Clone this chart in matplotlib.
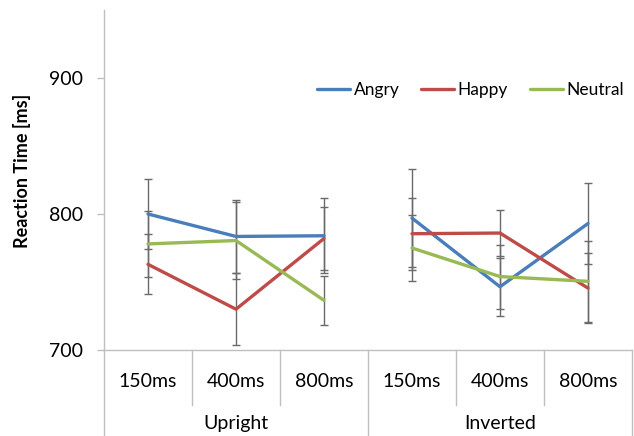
import numpy as np
import matplotlib.pyplot as plt

plt.rcParams["font.family"] = ["Lato", "DejaVu Sans"]

# =====================================================
# DATA
# =====================================================

durations = ["150ms", "400ms", "800ms"]
orientations = ["Upright", "Inverted"]

angry = [800, 783.5, 784, 797, 746.5, 793]
happy = [763, 730, 782, 785.5, 786, 745.5]
neutral = [778, 780.5, 736.5, 775, 754, 750.5]

angry_err = [25.5, 27, 27.5, 36, 21.5, 29.5]
happy_err = [22, 26.5, 23.5, 26.5, 17, 25.5]
neutral_err = [24, 28.5, 18, 24, 23.5, 30]

series = [
    ("Angry", angry, angry_err, "#4a7ebb"),
    ("Happy", happy, happy_err, "#be4b48"),
    ("Neutral", neutral, neutral_err, "#98b954"),
]

AXIS_GRAY = "#bfbfbf"

# =====================================================
# PLOT
# =====================================================

fig = plt.figure(figsize=(6.34, 4.36), dpi=100)
ax = fig.add_axes([104 / 634, 86 / 436, 528 / 634, 340 / 436])

n_dur = len(durations)
x = np.arange(n_dur * len(orientations))

for name, vals, errs, color in series:
    vals = np.array(vals)
    errs = np.array(errs)
    for g in range(len(orientations)):
        sl = slice(g * n_dur, (g + 1) * n_dur)
        ax.errorbar(
            x[sl], vals[sl], yerr=errs[sl],
            fmt="none", ecolor="#6a6a6a", elinewidth=1.0,
            capsize=3, capthick=1.0, zorder=2
        )
    for g in range(len(orientations)):
        sl = slice(g * n_dur, (g + 1) * n_dur)
        ax.plot(
            x[sl], vals[sl], color=color, lw=2.4,
            solid_capstyle="round", zorder=3,
            label=name if g == 0 else None
        )

ax.set_xlim(-0.5, len(x) - 0.5)
ax.set_ylim(700, 950)
ax.set_yticks([700, 800, 900])
ax.set_xticks([])

for side in ["top", "right"]:
    ax.spines[side].set_visible(False)
for side in ["left", "bottom"]:
    ax.spines[side].set_color(AXIS_GRAY)
    ax.spines[side].set_linewidth(1.0)

ax.tick_params(axis="y", length=5, color=AXIS_GRAY, width=1.0,
               labelsize=14, pad=10)

trans = ax.get_xaxis_transform()

# category labels and separators
for i, xi in enumerate(x):
    ax.text(xi, -31 / 340, durations[i % n_dur], transform=trans,
            ha="center", va="center", fontsize=14)

for b in range(len(x) + 1):
    xb = b - 0.5
    if b % n_dur == 0:
        y_end = -86 / 340
    else:
        y_end = -55 / 340
    ax.plot([xb, xb], [0, y_end], transform=trans, color=AXIS_GRAY,
            lw=1.0, clip_on=False)

for g, label in enumerate(orientations):
    ax.text(g * n_dur + (n_dur - 1) / 2, -73 / 340, label, transform=trans,
            ha="center", va="center", fontsize=14)

fig.text(22 / 634, (436 - 171) / 436, "Reaction Time [ms]", rotation=90,
         ha="center", va="center", fontsize=13, fontweight="bold")

ax.legend(loc="center right", bbox_to_anchor=(624 / 634, (436 - 90) / 436),
          bbox_transform=fig.transFigure, borderpad=0, borderaxespad=0,
          ncol=3, frameon=False, fontsize=12.5, handlelength=1.9,
          handletextpad=0.2, columnspacing=1.25)

fig.savefig("out.png", dpi=100)
